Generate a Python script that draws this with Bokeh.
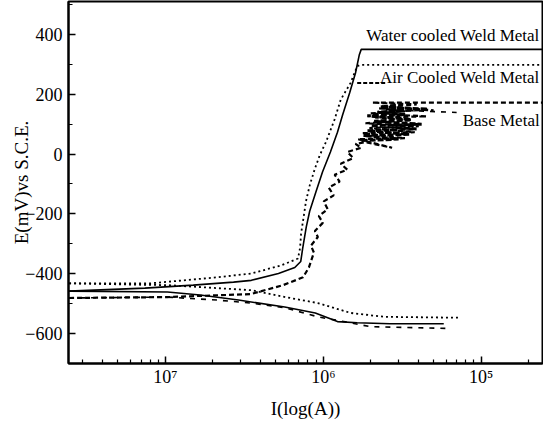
from bokeh.plotting import figure
from bokeh.models import FixedTicker, CustomJSTickFormatter, Label, Range1d
from bokeh.embed import file_html
from bokeh.resources import INLINE

# ---------------- data (current in A, potential in mV vs S.C.E.) ----------------
water_anodic_i = [2.45e-8, 7.4e-8, 1.5e-7, 2.7e-7, 3.5e-7, 5.2e-7, 6.6e-7, 7.2e-7, 7.4e-7,
                  7.8e-7, 8.2e-7, 9.0e-7, 9.9e-7, 1.11e-6, 1.23e-6, 1.33e-6, 1.47e-6,
                  1.60e-6, 1.69e-6, 1.74e-6, 2.45e-5]
water_anodic_e = [-458, -448, -438, -428, -422, -399, -379, -359, -316,
                  -244, -191, -125, -59, 7, 73, 133, 205,
                  271, 331, 350, 350]
water_cathodic_i = [2.45e-8, 1.03e-7, 1.66e-7, 2.9e-7, 5.7e-7, 8.9e-7, 1.23e-6, 1.64e-6, 2.65e-6, 5.8e-6]
water_cathodic_e = [-458, -461, -471, -488, -511, -531, -560, -564, -567, -567]

air_anodic_i = [2.45e-8, 4.46e-8, 8.05e-8, 2.12e-7, 3.51e-7, 5.42e-7, 6.92e-7, 7.13e-7, 7.23e-7,
                7.44e-7, 7.77e-7, 8.23e-7, 8.85e-7, 9.51e-7, 1.04e-6, 1.18e-6, 1.29e-6,
                1.49e-6, 1.64e-6, 1.72e-6, 2.45e-5]
air_anodic_e = [-432, -432, -432, -412, -399, -372, -349, -313, -267,
                -224, -158, -102, -49, -3, 40, 116, 182,
                238, 294, 298, 298]
air_cathodic_i = [2.45e-8, 7.38e-8, 1.03e-7, 2.12e-7, 3.5e-7, 5.74e-7, 9.24e-7, 1.49e-6, 2.43e-6, 7.18e-6]
air_cathodic_e = [-432, -437, -438, -448, -455, -478, -498, -531, -544, -547]
air_step_i = [1.64e-6, 2.54e-6]
air_step_e = [238, 238]

base_cathodic_i = [2.45e-8, 1.03e-7, 2.12e-7, 3.51e-7, 5.74e-7, 9.24e-7, 1.49e-6, 1.99e-6, 6.3e-6]
base_cathodic_e = [-481, -478, -488, -498, -514, -544, -564, -577, -583]
base_anodic_i = [2.45e-8, 1.03e-7, 3.46e-7, 5.57e-7, 7.44e-7, 8.11e-7, 8.72e-7, 8.35e-7, 9.24e-7,
                 8.85e-7, 9.93e-7, 9.37e-7, 1.067e-6, 1.007e-6, 1.164e-6, 1.083e-6, 1.27e-6,
                 1.18e-6, 1.42e-6, 1.29e-6, 1.55e-6, 1.42e-6, 1.74e-6, 1.60e-6, 1.85e-6,
                 2.73e-6, 1.65e-6, 3.29e-6, 1.77e-6, 3.80e-6, 1.96e-6, 4.03e-6, 1.85e-6,
                 3.64e-6, 2.13e-6, 4.52e-6, 1.99e-6, 3.29e-6, 2.26e-6, 5.00e-6, 2.47e-6,
                 3.91e-6, 2.04e-6, 2.45e-5]
base_anodic_e = [-481, -478, -468, -438, -412, -379, -329, -306, -277,
                 -257, -230, -207, -184, -158, -138, -112, -92,
                 -69, -52, -32, -13, 7, 21, 34, 40,
                 21, 50, 53, 70, 73, 87, 93, 103,
                 113, 123, 126, 136, 143, 153, 146, 159,
                 166, 172, 172]
# dense scatter of the base-metal passive region (read as short horizontal strokes)
base_cloud_i = [1.75e-6, 3.0e-6, 1.8e-6, 3.5e-6, 1.9e-6, 3.9e-6, 2.0e-6, 4.2e-6, 2.1e-6,
                3.6e-6, 1.9e-6, 3.3e-6, 2.2e-6, 4.6e-6, 2.3e-6, 3.0e-6]
base_cloud_e = [45, 50, 62, 66, 78, 84, 95, 100, 110,
                116, 128, 132, 140, 150, 158, 163]
base_top2_i = [2.5e-6, 7.0e-6]
base_top2_e = [149, 139]

series_labels = ["Water cooled Weld Metal", "Air Cooled Weld Metal", "Base Metal"]
label_i = [2.35e-5, 2.35e-5, 2.35e-5]
label_e = [397, 255, 113]

x_tick_values = [1e-7, 1e-6, 1e-5]
x_tick_labels = ["10⁷", "10⁶", "10⁵"]
y_tick_values = [-600, -400, -200, 0, 200, 400]
y_minor_values = [-700, -500, -300, -100, 100, 300, 500]

SERIF = "Liberation Serif"

p = figure(frame_width=474, frame_height=362, x_axis_type="log",
           x_range=Range1d(2.43e-8, 2.45e-5), y_range=Range1d(-700, 510),
           output_backend="svg", toolbar_location=None,
           min_border_left=68, min_border_right=1, min_border_top=1, min_border_bottom=46)

p.xgrid.visible = False
p.ygrid.visible = False
p.background_fill_color = "white"
p.border_fill_color = "white"
p.outline_line_color = "black"
p.outline_line_width = 2

# curves
p.line(water_cathodic_i, water_cathodic_e, line_color="black", line_width=1.6)
p.line(water_anodic_i, water_anodic_e, line_color="black", line_width=1.6)

p.line(air_cathodic_i, air_cathodic_e, line_color="black", line_width=1.8, line_dash="2 3")
p.line(air_anodic_i, air_anodic_e, line_color="black", line_width=1.8, line_dash="2 3")
p.line(air_step_i, air_step_e, line_color="black", line_width=2, line_dash="4 2")

p.line(base_cathodic_i, base_cathodic_e, line_color="black", line_width=1.6, line_dash="5 6")
p.line(base_anodic_i, base_anodic_e, line_color="black", line_width=2.2, line_dash="5 3")
p.line(base_cloud_i, base_cloud_e, line_color="black", line_width=3, line_dash="6 2")
p.line(base_top2_i, base_top2_e, line_color="black", line_width=1.6, line_dash="5 6")

for txt, xi, ye in zip(series_labels, label_i, label_e):
    p.add_layout(Label(x=xi, y=ye, text=txt, text_align="right", text_baseline="middle",
                       text_font=SERIF, text_font_size="17px", text_color="black"))

# x axis
xa = p.xaxis[0]
xa.ticker = FixedTicker(ticks=x_tick_values,
                        minor_ticks=[k * 10.0 ** d for d in (-8, -7, -6, -5) for k in range(2, 10)])
xa.formatter = CustomJSTickFormatter(args=dict(vals=x_tick_values, labs=x_tick_labels), code="""
    for (let i = 0; i < vals.length; i++) {
        if (Math.abs(Math.log10(vals[i]) - Math.log10(tick)) < 1e-6) return labs[i];
    }
    return "";
""")
xa.axis_label = "I(log(A))"

# y axis
ya = p.yaxis[0]
ya.ticker = FixedTicker(ticks=y_tick_values, minor_ticks=y_minor_values)
ya.axis_label = "E(mV)vs S.C.E."

for ax in (xa, ya):
    ax.axis_line_width = 2
    ax.axis_line_color = "black"
    ax.major_tick_in = 7
    ax.major_tick_out = 0
    ax.minor_tick_in = 4
    ax.minor_tick_out = 0
    ax.major_tick_line_width = 1.5
    ax.minor_tick_line_width = 1.2
    ax.major_tick_line_color = "black"
    ax.minor_tick_line_color = "black"
    ax.major_label_text_font = SERIF
    ax.major_label_text_font_size = "18px"
    ax.major_label_text_color = "black"
    ax.axis_label_text_font = SERIF
    ax.axis_label_text_font_size = "19px"
    ax.axis_label_text_font_style = "normal"
    ax.axis_label_text_color = "black"

xa.major_label_standoff = 3
xa.axis_label_standoff = 8
ya.major_label_standoff = 6
ya.axis_label_standoff = -10

open("out.html", "w").write(file_html(p, INLINE))
